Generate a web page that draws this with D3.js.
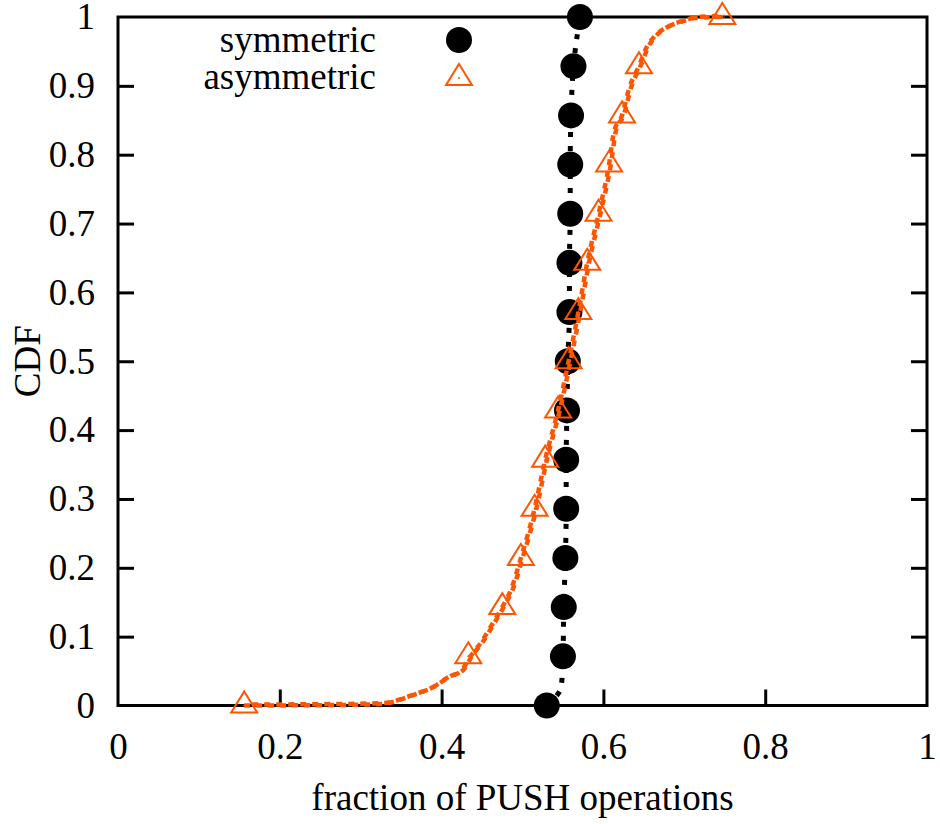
<!DOCTYPE html>
<html>
<head>
<meta charset="utf-8">
<script src="https://cdn.jsdelivr.net/npm/d3@7"></script>
<style>
  body { margin: 0; background: #fff; }
  svg text { font-family: "Liberation Serif", "Times New Roman", serif; fill: #000; }
</style>
</head>
<body>
<svg id="chart" width="940" height="824"></svg>
<script>
// tick labels
var xTicks = [0, 0.2, 0.4, 0.6, 0.8, 1];
var yTicks = [0, 0.1, 0.2, 0.3, 0.4, 0.5, 0.6, 0.7, 0.8, 0.9, 1];

// marker levels (every 1/14 of the CDF)
var markerCdf = [0, 0.0714, 0.1429, 0.2143, 0.2857, 0.3571, 0.4286, 0.5,
                 0.5714, 0.6429, 0.7143, 0.7857, 0.8571, 0.9286, 1];

// symmetric: marker x values
var symX = [0.530, 0.550, 0.551, 0.553, 0.554, 0.554, 0.555, 0.556,
            0.558, 0.558, 0.559, 0.559, 0.560, 0.563, 0.571];
// symmetric: line
var symLineX = [0.530, 0.548, 0.550, 0.551, 0.553, 0.554, 0.554, 0.555, 0.556,
                0.558, 0.558, 0.559, 0.559, 0.560, 0.563, 0.571];
var symLineY = [0, 0.028, 0.0714, 0.1429, 0.2143, 0.2857, 0.3571, 0.4286, 0.5,
                0.5714, 0.6429, 0.7143, 0.7857, 0.8571, 0.9286, 1];

// asymmetric: marker x values
var asymX = [0.156, 0.433, 0.475, 0.498, 0.515, 0.528, 0.544, 0.557,
             0.569, 0.580, 0.594, 0.607, 0.623, 0.644, 0.747];
// asymmetric: line
var asymLineX = [0.156, 0.25, 0.325, 0.362, 0.390, 0.408, 0.424, 0.436, 0.449, 0.461,
                 0.475, 0.486, 0.498, 0.515, 0.528, 0.544, 0.557, 0.569, 0.580, 0.594,
                 0.607, 0.613, 0.623, 0.632, 0.644, 0.653, 0.665, 0.680, 0.696, 0.717, 0.747];
var asymLineY = [0, 0.0005, 0.002, 0.014, 0.027, 0.041, 0.050, 0.072, 0.092, 0.115,
                 0.143, 0.169, 0.214, 0.286, 0.357, 0.429, 0.5, 0.571, 0.643, 0.714,
                 0.786, 0.833, 0.857, 0.897, 0.929, 0.955, 0.974, 0.986, 0.993, 0.999, 1];

var seriesNames = ["symmetric", "asymmetric"];

var svg = d3.select("#chart"),
    margin = {left: 118, top: 17, right: 13, bottom: 118.5},
    width = +svg.attr("width") - margin.left - margin.right,
    height = +svg.attr("height") - margin.top - margin.bottom;

var x = d3.scaleLinear().domain([0, 1]).range([0, width]);
var y = d3.scaleLinear().domain([0, 1]).range([height, 0]);

var orange = "#ff5500";
var serif = '"Liberation Serif", "Times New Roman", serif';
var fontSize = 37;

var g = svg.append("g").attr("transform", "translate(" + margin.left + "," + margin.top + ")");

// axes, ticks inward
var fmt = function (d) { return d === 0 ? "0" : d === 1 ? "1" : d3.format(".1f")(d); };

var xAxis = g.append("g")
    .attr("transform", "translate(0," + height + ")")
    .call(d3.axisBottom(x).tickValues(xTicks).tickSize(-16).tickPadding(27).tickFormat(fmt));

var yAxis = g.append("g")
    .call(d3.axisLeft(y).tickValues(yTicks).tickSize(-16).tickPadding(23).tickFormat(fmt));

var yAxisR = g.append("g")
    .attr("transform", "translate(" + width + ",0)")
    .call(d3.axisRight(y).tickValues(yTicks).tickSize(-16).tickFormat(""));

[xAxis, yAxis, yAxisR].forEach(function (a) {
    a.attr("font-family", serif).attr("font-size", fontSize);
    a.select(".domain").remove();
    a.selectAll("line").attr("stroke", "#000").attr("stroke-width", 3);
    a.selectAll("text").style("font-family", serif).style("font-size", fontSize + "px").attr("fill", "#000");
    // no tick marks at the frame corners
    a.selectAll(".tick").filter(function (d) { return d === 0 || d === 1; }).select("line").remove();
});

// frame
g.append("rect")
    .attr("x", 0).attr("y", 0)
    .attr("width", width).attr("height", height)
    .attr("fill", "none").attr("stroke", "#000").attr("stroke-width", 3);

// axis titles
svg.append("text")
    .attr("x", margin.left + width / 2)
    .attr("y", 810)
    .attr("text-anchor", "middle")
    .style("font-size", fontSize + "px")
    .text("fraction of PUSH operations");

svg.append("text")
    .attr("transform", "translate(40," + (margin.top + height / 2) + ") rotate(-90)")
    .attr("text-anchor", "middle")
    .style("font-size", fontSize + "px")
    .text("CDF");

var line = d3.line()
    .x(function (d) { return x(d[0]); })
    .y(function (d) { return y(d[1]); })
    .curve(d3.curveMonotoneY);

var lineA = d3.line()
    .x(function (d) { return x(d[0]); })
    .y(function (d) { return y(d[1]); })
    .curve(d3.curveMonotoneX);

// symmetric
var symLine = symLineX.map(function (v, i) { return [v, symLineY[i]]; });
g.append("path")
    .datum(symLine)
    .attr("d", line)
    .attr("fill", "none")
    .attr("stroke", "#000")
    .attr("stroke-width", 5)
    .attr("stroke-dasharray", "5,9");

g.selectAll(".sym")
    .data(symX.map(function (v, i) { return [v, markerCdf[i]]; }))
    .enter().append("circle")
    .attr("class", "sym")
    .attr("cx", function (d) { return x(d[0]); })
    .attr("cy", function (d) { return y(d[1]); })
    .attr("r", 13)
    .attr("fill", "#000");

// asymmetric (drawn twice, slightly offset, like the reference's doubled dash)
var asymLine = asymLineX.map(function (v, i) { return [v, asymLineY[i]]; });
[[0, 0, 0], [2, -1, 6]].forEach(function (o) {
    g.append("path")
        .datum(asymLine)
        .attr("d", lineA)
        .attr("transform", "translate(" + o[0] + "," + o[1] + ")")
        .attr("fill", "none")
        .attr("stroke", orange)
        .attr("stroke-width", 4.5)
        .attr("stroke-dasharray", "6,6")
        .attr("stroke-dashoffset", o[2]);
});

function triangle(sel) {
    sel.append("path")
        .attr("d", "M0,-14L13,7L-13,7Z")
        .attr("fill", "none")
        .attr("stroke", orange)
        .attr("stroke-width", 2);
    sel.append("circle").attr("r", 1).attr("fill", orange);
}

g.selectAll(".asym")
    .data(asymX.map(function (v, i) { return [v, markerCdf[i]]; }))
    .enter().append("g")
    .attr("class", "asym")
    .attr("transform", function (d) { return "translate(" + x(d[0]) + "," + y(d[1]) + ")"; })
    .call(triangle);

// legend
var legend = svg.append("g");
legend.append("text")
    .attr("x", 376).attr("y", 52)
    .attr("text-anchor", "end")
    .style("font-size", fontSize + "px")
    .text(seriesNames[0]);
legend.append("circle")
    .attr("cx", 459).attr("cy", 40).attr("r", 13).attr("fill", "#000");
legend.append("text")
    .attr("x", 376).attr("y", 89)
    .attr("text-anchor", "end")
    .style("font-size", fontSize + "px")
    .text(seriesNames[1]);
legend.append("g")
    .attr("transform", "translate(459,78)")
    .call(triangle);
</script>
</body>
</html>
